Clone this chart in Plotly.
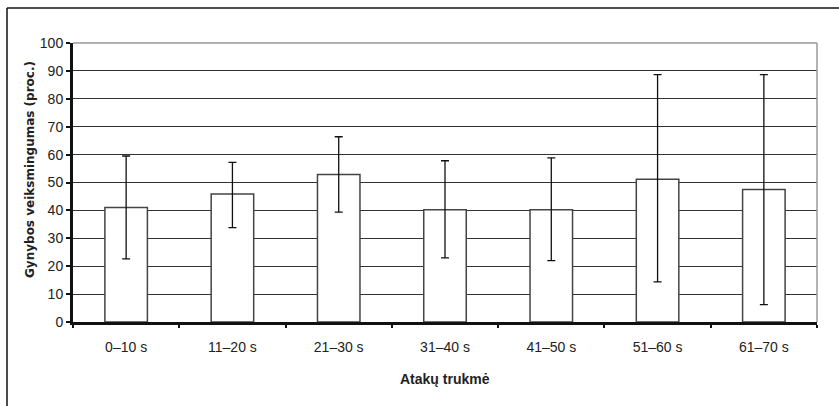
import plotly.graph_objects as go

categories = ["0–10 s", "11–20 s", "21–30 s", "31–40 s", "41–50 s", "51–60 s", "61–70 s"]
means = [41.0, 45.9, 52.9, 40.2, 40.2, 51.2, 47.5]
err_plus = [18.5, 11.3, 13.5, 17.6, 18.6, 37.5, 41.2]
err_minus = [18.4, 12.1, 13.5, 17.2, 18.2, 36.8, 41.3]
y_ticks = [0, 10, 20, 30, 40, 50, 60, 70, 80, 90, 100]

W, H = 839, 406
L, R, T, B = 73, 22, 43, 84
pw, ph = W - L - R, H - T - B

def px_to_paper_x(x):
    return (x - L) / pw

def px_to_paper_y(y):
    return (H - B - y) / ph

fig = go.Figure()
fig.add_trace(go.Bar(
    x=categories, y=means, width=0.4,
    marker=dict(color="white", line=dict(color="#444444", width=1.5)),
    error_y=dict(type="data", array=err_plus, arrayminus=err_minus,
                 color="#111111", thickness=1.3, width=4, visible=True),
    showlegend=False,
))

fig.update_layout(
    width=W, height=H,
    margin=dict(l=L, r=R, t=T, b=B, pad=0),
    paper_bgcolor="white", plot_bgcolor="white",
    font=dict(family="Liberation Sans, Arial, sans-serif", color="#111111", size=14),
    bargap=0.6,
)
fig.update_xaxes(
    showline=True, linecolor="#111111", linewidth=3,
    ticks="outside", tickson="boundaries", ticklen=3, tickwidth=2, tickcolor="#111111",
    ticklabelstandoff=10,
    showgrid=False, zeroline=False,
    tickfont=dict(size=14, color="#222222"),
)
fig.update_yaxes(
    range=[0, 100], tickvals=y_ticks,
    showline=True, linecolor="#111111", linewidth=3,
    ticks="outside", ticklen=4, tickwidth=2, tickcolor="#111111",
    showgrid=True, gridcolor="#333333", gridwidth=1,
    zeroline=False,
    tickfont=dict(size=14, color="#222222"),
)

# plot area border (top/right, gray)
fig.add_shape(type="line", xref="paper", yref="paper", x0=1, x1=1, y0=0, y1=1,
              line=dict(color="#999999", width=1.5))
fig.add_shape(type="line", xref="paper", yref="paper", x0=0, x1=1, y0=1, y1=1,
              line=dict(color="#999999", width=1.5))
# outer frame (top and left)
fig.add_shape(type="line", xref="paper", yref="paper",
              x0=px_to_paper_x(7), x1=px_to_paper_x(W + 5),
              y0=px_to_paper_y(8), y1=px_to_paper_y(8),
              line=dict(color="#111111", width=1.5), layer="above")
fig.add_shape(type="line", xref="paper", yref="paper",
              x0=px_to_paper_x(7), x1=px_to_paper_x(7),
              y0=px_to_paper_y(8), y1=px_to_paper_y(H + 5),
              line=dict(color="#111111", width=1.5), layer="above")

fig.add_annotation(
    text="<b>Gynybos veiksmingumas (proc.)</b>", textangle=-90,
    xref="paper", yref="paper", x=px_to_paper_x(30), y=px_to_paper_y(170),
    showarrow=False, xanchor="center", yanchor="middle",
    font=dict(family="DejaVu Sans, sans-serif", size=12, color="#222222"),
)
fig.add_annotation(
    text="<b>Atakų trukmė</b>",
    xref="paper", yref="paper", x=0.5, y=px_to_paper_y(379),
    showarrow=False, xanchor="center", yanchor="middle",
    font=dict(family="Liberation Sans, Arial, sans-serif", size=14, color="#222222"),
)

fig.write_html("out.html")
